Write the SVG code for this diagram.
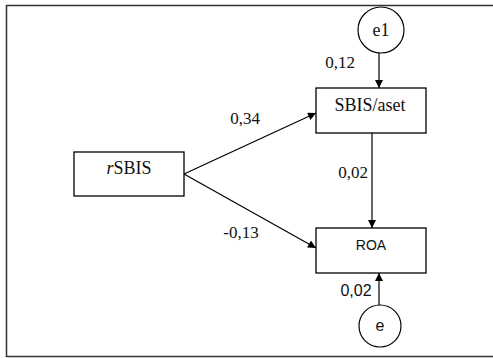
<svg xmlns="http://www.w3.org/2000/svg" width="493" height="358" viewBox="0 0 493 358">
<style>
.box{fill:#fff;stroke:#000;stroke-width:1.3}
.circ{fill:#fff;stroke:#000;stroke-width:1.2}
.tm{font-family:"Liberation Serif","Times New Roman",serif;font-size:18px;fill:#111;text-anchor:middle}
.lbl{font-family:"Liberation Serif","Times New Roman",serif;font-size:17px;fill:#111;text-anchor:middle}
.sn{font-family:"Liberation Sans",Arial,sans-serif;fill:#111;text-anchor:middle}
.edge{stroke:#000;stroke-width:1.2;fill:none;marker-end:url(#ah)}
</style>
<defs>
<marker id="ah" viewBox="0 0 10 10" refX="10" refY="5" markerWidth="9" markerHeight="8" markerUnits="userSpaceOnUse" orient="auto">
<path d="M0,0 L10,5 L0,10 z" fill="#000"/>
</marker>
</defs>
<rect width="493" height="358" fill="#fff"/>
<path d="M493 5.5 H6.5 V356.5 H493" fill="none" stroke="#333" stroke-width="1.5"/>
<g id="connectors">
<line class="edge" x1="379" y1="48" x2="379" y2="88"/>
<line class="edge" x1="184" y1="174" x2="316" y2="113"/>
<line class="edge" x1="184" y1="174" x2="316" y2="248"/>
<line class="edge" x1="372" y1="133" x2="372" y2="228"/>
<line class="edge" x1="379" y1="305" x2="379" y2="273"/>
</g>
<g id="e1">
<circle class="circ" cx="381" cy="30" r="23"/>
<text class="tm" x="381" y="36">e1</text>
</g>
<g id="sbis_aset">
<rect class="box" x="316" y="88" width="110" height="45"/>
<text class="tm" x="370" y="111">SBIS/aset</text>
</g>
<g id="rsbis">
<rect class="box" x="74" y="152" width="110" height="44"/>
<text class="tm" x="129" y="174"><tspan font-style="italic">r</tspan>SBIS</text>
</g>
<g id="roa">
<rect class="box" x="316" y="228" width="110" height="45"/>
<text class="sn" x="371" y="250" font-size="14">ROA</text>
</g>
<g id="e">
<circle class="circ" cx="380" cy="326" r="21"/>
<text class="sn" x="380" y="331" font-size="16">e</text>
</g>
<g id="labels">
<text class="lbl" x="245" y="124">0,34</text>
<text class="lbl" x="340" y="68">0,12</text>
<text class="lbl" x="353" y="178">0,02</text>
<text class="lbl" x="241" y="238">-0,13</text>
<text class="sn" x="356" y="296" font-size="16">0,02</text>
</g>
</svg>
